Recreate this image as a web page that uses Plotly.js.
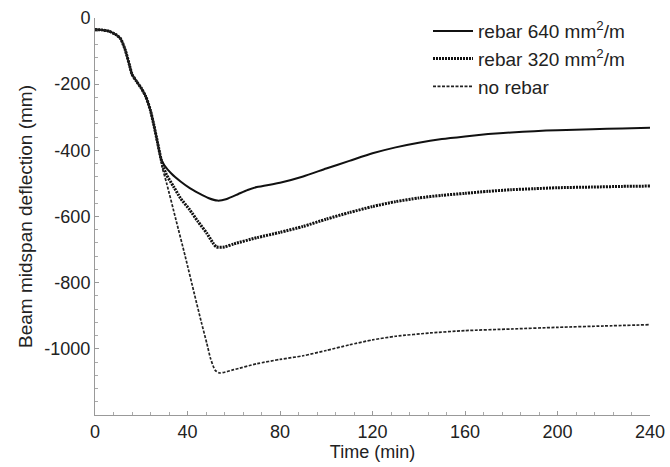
<!DOCTYPE html>
<html>
<head>
<meta charset="utf-8">
<script src="https://cdn.plot.ly/plotly-3.0.1.min.js"></script>
<style>html,body{margin:0;padding:0;background:#fff;}#chart{width:670px;height:467px;}</style>
</head>
<body>
<div id="chart"></div>
<script>
// Shared initial phase (all three curves coincide)
const timeCommon = [0, 3, 6, 9, 11, 13, 15, 16, 18, 20, 22, 24, 25.5, 27, 28.5];
const deflCommon = [-35, -36, -40, -50, -62, -95, -145, -170, -192, -212, -238, -280, -325, -375, -425];

// rebar 640 mm2/m
const time640 = [30, 33, 37, 41, 45, 49, 53, 57, 62, 66, 70, 80, 90, 100, 110, 120, 130, 140, 150, 160, 170, 180, 190, 200, 215, 228, 240];
const defl640 = [-445, -470, -494, -514, -530, -544, -552, -547, -532, -520, -511, -498, -479, -455, -432, -409, -391, -377, -366, -358, -351, -346, -342, -339, -336, -334, -332];

// rebar 320 mm2/m
const time320 = [29.5, 31, 34, 37, 41, 44.5, 48.3, 51, 52.5, 56, 60, 70, 80, 90, 100, 110, 120, 130, 140, 150, 160, 170, 180, 190, 200, 215, 228, 240];
const defl320 = [-450, -475, -510, -545, -580, -615, -650, -680, -692, -692, -683, -664, -648, -630, -608, -588, -570, -555, -544, -536, -530, -524, -519, -516, -513, -511, -509, -508];

// no rebar
const timeNone = [29, 31, 35, 39, 43, 46, 48.3, 50, 52, 54, 60, 70, 80, 90, 100, 110, 120, 130, 145, 160, 180, 200, 220, 240];
const deflNone = [-450, -500, -610, -720, -835, -920, -982, -1030, -1065, -1073, -1063, -1045, -1032, -1021, -1005, -988, -973, -962, -952, -945, -940, -935, -931, -927];

const seriesNames = ["rebar 640 mm<sup>2</sup>/m", "rebar 320 mm<sup>2</sup>/m", "no rebar"];
const xTicks = [0, 40, 80, 120, 160, 200, 240];
const yTicks = [0, -200, -400, -600, -800, -1000];
const yTickText = ["0", "-200", "-400", "-600", "-800", "-1000"];

const traces = [
  {x: timeCommon.concat(time640), y: deflCommon.concat(defl640), name: seriesNames[0],
   mode: "lines", line: {color: "#111", width: 2, shape: "spline", smoothing: 0.6}},
  {x: timeCommon.concat(time320), y: deflCommon.concat(defl320), name: seriesNames[1],
   mode: "lines", line: {color: "#111", width: 3, dash: "2px,1px", shape: "spline", smoothing: 0.6}},
  {x: timeCommon.concat(timeNone), y: deflCommon.concat(deflNone), name: seriesNames[2],
   mode: "lines", line: {color: "#222", width: 1.7, dash: "3px,1.5px", shape: "spline", smoothing: 0.6}}
];

const font = "Liberation Sans, Arial, sans-serif";
const layout = {
  width: 670, height: 467,
  margin: {l: 95, r: 20, t: 18, b: 52},
  paper_bgcolor: "#fff", plot_bgcolor: "#fff",
  font: {family: font, color: "#222", size: 18},
  showlegend: true,
  legend: {x: 0.600, y: 1.015, xanchor: "left", yanchor: "top", bgcolor: "rgba(0,0,0,0)",
           itemwidth: 40, font: {family: font, size: 19, color: "#222"}, tracegroupgap: 0},
  xaxis: {
    range: [0, 240], tickvals: xTicks,
    showgrid: false, zeroline: false, showline: true, linecolor: "#999", linewidth: 1,
    ticks: "inside", ticklen: 4, tickcolor: "#999",
    minor: {dtick: 8, tick0: 0, ticks: "inside", ticklen: 3, tickcolor: "#aaa", showgrid: false},
    tickfont: {family: font, size: 18, color: "#222"},
    title: {text: "Time (min)", font: {family: font, size: 18, color: "#222"}, standoff: 2}
  },
  yaxis: {
    range: [-1200, 0], tickvals: yTicks, ticktext: yTickText,
    showgrid: false, zeroline: false, showline: true, linecolor: "#999", linewidth: 1,
    ticks: "inside", ticklen: 4, tickcolor: "#999",
    minor: {dtick: 40, tick0: 0, ticks: "inside", ticklen: 3, tickcolor: "#aaa", showgrid: false},
    tickfont: {family: font, size: 18, color: "#222"},
    title: {text: "Beam midspan deflection (mm)", font: {family: font, size: 19, color: "#222"}, standoff: 6}
  }
};

Plotly.newPlot("chart", traces, layout, {staticPlot: true, displayModeBar: false});
</script>
</body>
</html>
